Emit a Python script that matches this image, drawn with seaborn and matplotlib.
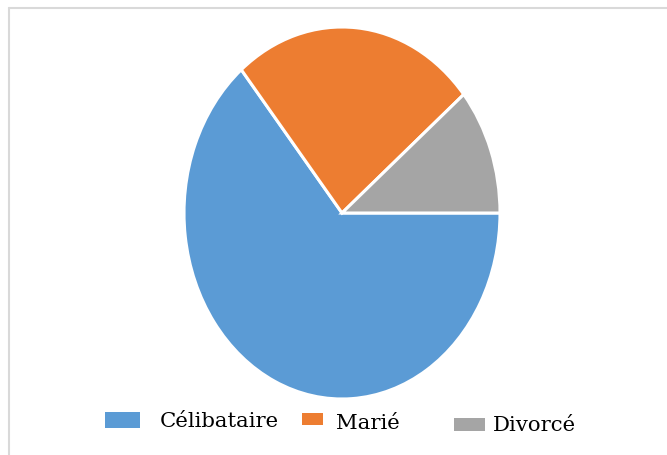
import matplotlib
matplotlib.use("Agg")
import matplotlib.pyplot as plt
from matplotlib.patches import Rectangle
from matplotlib.lines import Line2D
import seaborn as sns

categories = ["Célibataire", "Marié", "Divorcé"]
shares = [64, 25, 11]
colors = ["#5B9BD5", "#ED7D31", "#A5A5A5"]

sns.set_theme(style="white")
plt.rcParams["font.family"] = ["DejaVu Serif"]

W, H = 667, 456
fig = plt.figure(figsize=(W / 100, H / 100), dpi=100)

# chart frame (top and left edges visible)
fig.add_artist(Line2D([8.5 / W, 8.5 / W], [0, 1 - 8.5 / H], transform=fig.transFigure,
                      color="#d9d9d9", lw=1.5))
fig.add_artist(Line2D([8.5 / W, 1], [1 - 8.5 / H, 1 - 8.5 / H], transform=fig.transFigure,
                      color="#d9d9d9", lw=1.5))

cx, cy, rx, ry = 342, 214, 158, 186
ax = fig.add_axes([(cx - rx) / W, 1 - (cy + ry) / H, 2 * rx / W, 2 * ry / H])
ax.pie(shares, colors=colors, startangle=0, counterclock=False, radius=1,
       wedgeprops=dict(edgecolor="white", linewidth=2.2))
ax.set_aspect("auto")
ax.set_xlim(-1, 1)
ax.set_ylim(-1, 1)
ax.axis("off")

# legend row
swatches = [(105, 413, 35, 16), (302, 414, 21, 12), (454, 419, 31, 13)]
text_x = [160, 336, 493]
baselines = [427, 429, 431]
for (x, y, w, h), c, lab, tx, by in zip(swatches, colors, categories, text_x, baselines):
    fig.add_artist(Rectangle((x / W, 1 - (y + h) / H), w / W, h / H,
                             transform=fig.transFigure, color=c, lw=0))
    fig.text(tx / W, 1 - by / H, lab, fontsize=15.3, color="#000000",
             ha="left", va="baseline")

fig.savefig("out.png", dpi=100)
